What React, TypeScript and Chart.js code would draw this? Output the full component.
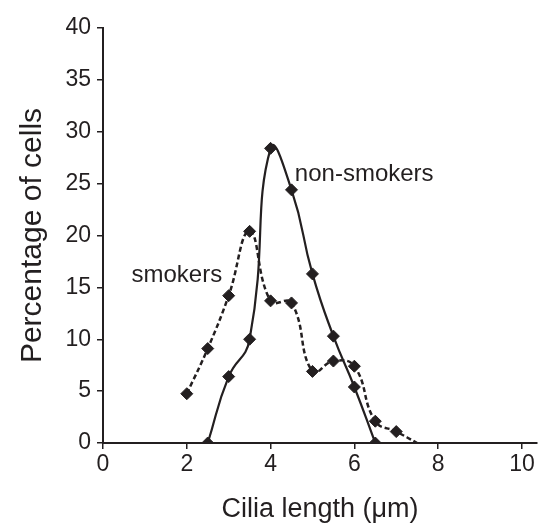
import React, { useEffect, useRef } from "react";
import { Chart, registerables } from "chart.js";

Chart.register(...registerables);

const INK = "#231f20";
const FONT = '"Liberation Sans", Arial, Helvetica, sans-serif';

const xTickValues = [0, 2, 4, 6, 8, 10];
const yTickValues = [0, 5, 10, 15, 20, 25, 30, 35, 40];

const nonSmokersX = [2.5, 3, 3.5, 4, 4.5, 5, 5.5, 6, 6.5];
const nonSmokersY = [0, 6.4, 10, 28.4, 24.4, 16.3, 10.3, 5.4, 0];

const smokersX = [2, 2.5, 3, 3.5, 4, 4.5, 5, 5.5, 6, 6.5, 7, 7.5];
const smokersY = [4.75, 9.1, 14.2, 20.4, 13.7, 13.5, 6.9, 7.9, 7.4, 2.1, 1.1, 0];
const smokersMarked = [1, 1, 1, 1, 1, 1, 1, 1, 1, 1, 1, 0];

const labelTexts = ["non-smokers", "smokers"];
const labelAt = [
  { x: 4.58, y: 25.3 },
  { x: 0.68, y: 15.5 },
];

const labelPlugin = {
  id: "seriesLabels",
  afterDatasetsDraw(chart: any) {
    const { ctx, scales } = chart;
    ctx.save();
    ctx.fillStyle = INK;
    ctx.font = `24px ${FONT}`;
    ctx.textAlign = "left";
    ctx.textBaseline = "alphabetic";
    labelTexts.forEach((t, i) => {
      ctx.fillText(t, scales.x.getPixelForValue(labelAt[i].x), scales.y.getPixelForValue(labelAt[i].y));
    });
    ctx.restore();
  },
};

export default function App() {
  const ref = useRef<HTMLCanvasElement | null>(null);
  useEffect(() => {
    if (!ref.current) return;
    const chart = new Chart(ref.current, {
      type: "line",
      data: {
        datasets: [
          {
            label: "non-smokers",
            data: nonSmokersX.map((x, i) => ({ x, y: nonSmokersY[i] })),
            borderColor: INK,
            backgroundColor: INK,
            borderWidth: 2.2,
            tension: 0.5,
            pointStyle: "rectRot",
            pointRadius: 6,
            pointBorderWidth: 1,
            pointBackgroundColor: INK,
            pointBorderColor: INK,
            fill: false,
          },
          {
            label: "smokers",
            data: smokersX.map((x, i) => ({ x, y: smokersY[i] })),
            borderColor: INK,
            backgroundColor: INK,
            borderWidth: 2.5,
            borderDash: [5, 3],
            tension: 0.45,
            pointStyle: "rectRot",
            pointRadius: smokersMarked.map((m) => (m ? 6 : 0)),
            pointBorderWidth: 1,
            pointBackgroundColor: INK,
            pointBorderColor: INK,
            fill: false,
          },
        ],
      },
      options: {
        animation: false,
        responsive: true,
        maintainAspectRatio: false,
        layout: { padding: { top: 28, right: 11, left: 0, bottom: 0 } },
        plugins: { legend: { display: false }, tooltip: { enabled: false } },
        scales: {
          x: {
            type: "linear",
            min: 0,
            max: 10.36,
            afterBuildTicks: (s: any) => {
              s.ticks = xTickValues.map((v) => ({ value: v }));
            },
            afterFit: (s: any) => {
              s.height = 85;
            },
            grid: { drawOnChartArea: false, drawTicks: true, tickLength: 6, color: INK, lineWidth: 1.5 },
            border: { display: true, color: INK, width: 2 },
            ticks: { color: INK, font: { family: FONT, size: 23 }, padding: 2, maxRotation: 0 },
            title: {
              display: true,
              text: "Cilia length (\u03bcm)",
              color: INK,
              font: { family: FONT, size: 27 },
              padding: { top: 0, bottom: 2 },
            },
          },
          y: {
            type: "linear",
            min: 0,
            max: 40,
            afterBuildTicks: (s: any) => {
              s.ticks = yTickValues.map((v) => ({ value: v }));
            },
            afterFit: (s: any) => {
              s.width = 103;
            },
            grid: { drawOnChartArea: false, drawTicks: true, tickLength: 6, color: INK, lineWidth: 1.5 },
            border: { display: true, color: INK, width: 2 },
            ticks: { color: INK, font: { family: FONT, size: 23 }, padding: 6 },
            title: {
              display: true,
              text: "Percentage of cells",
              color: INK,
              font: { family: FONT, size: 30 },
              padding: { top: 15, bottom: 0 },
            },
          },
        },
      },
      plugins: [labelPlugin],
    });
    return () => chart.destroy();
  }, []);
  return (
    <div style={{ position: "absolute", left: 0, top: 0, width: 548, height: 528, background: "#fff" }}>
      <canvas ref={ref} />
    </div>
  );
}
